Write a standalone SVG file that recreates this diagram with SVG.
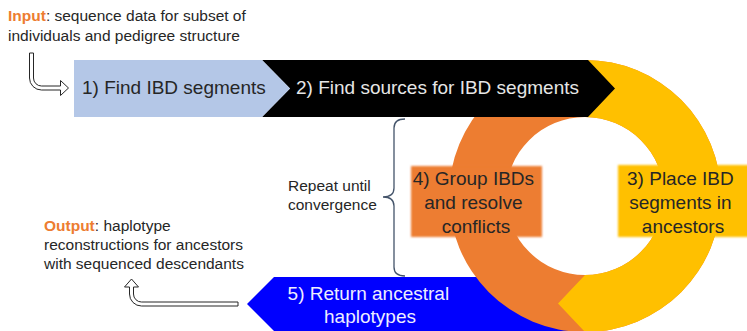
<svg xmlns="http://www.w3.org/2000/svg" width="747" height="331" viewBox="0 0 747 331">
  <defs>
    <filter id="soft" x="-10%" y="-10%" width="120%" height="120%">
      <feGaussianBlur stdDeviation="1.3"/>
    </filter>
    <style>
      text { font-family: "Liberation Sans", Arial, sans-serif; }
      .step { font-size: 19px; }
      .note { font-size: 15.5px; fill: #262626; }
      .key { font-weight: bold; fill: #ED7D31; }
      .dark { fill: #262626; }
      .light { fill: #E6E6E6; }
      .hollow { fill: #ffffff; stroke: #262626; stroke-width: 1; stroke-linejoin: miter; }
    </style>
  </defs>

  <rect width="747" height="331" fill="#ffffff"/>

  <!-- step 5: return chevron (sits beneath the cycle ring) -->
  <g id="step5">
    <polygon points="247,304 274,277 590,277 590,331 274,331" fill="#0000FF"/>
  </g>

  <!-- iteration ring: orange half with yellow arrow half -->
  <g id="cycle">
    <path fill="#ED7D31" fill-rule="evenodd"
          d="M449,196 A136,136 0 1 0 721,196 A136,136 0 1 0 449,196 Z M506,196 A79,79 0 1 0 664,196 A79,79 0 1 0 506,196 Z"/>
    <path fill="#FFC000"
          d="M585,60 A136,136 0 0 1 585,332 L558,303.5 L585,275 A79,79 0 0 0 585,117 Z"/>
  </g>

  <!-- step 2 chevron -->
  <g id="step2">
    <polygon points="262,60 588,60 615,88.5 588,117 262,117 290,88.5" fill="#000000"/>
    <text class="step light" x="296" y="94">2) Find sources for IBD segments</text>
  </g>

  <!-- step 1 chevron -->
  <g id="step1">
    <polygon points="74,60 262,60 290,88.5 262,117 74,117" fill="#B4C7E7"/>
    <text class="step dark" x="82" y="94">1) Find IBD segments</text>
  </g>

  <!-- step 4 label box -->
  <g id="step4">
    <rect x="411" y="166" width="131" height="71" fill="#ED7D31" filter="url(#soft)"/>
    <text class="step dark" text-anchor="middle">
      <tspan x="476" y="185">4) Group IBDs</tspan>
      <tspan x="476" y="209">and resolve</tspan>
      <tspan x="476" y="233">conflicts</tspan>
    </text>
  </g>

  <!-- step 3 label box -->
  <g id="step3">
    <rect x="618" y="165" width="135" height="72" fill="#FFC000" filter="url(#soft)"/>
    <text class="step dark" text-anchor="middle">
      <tspan x="683" y="185">3) Place IBD</tspan>
      <tspan x="683" y="209">segments in</tspan>
      <tspan x="683" y="233">ancestors</tspan>
    </text>
  </g>

  <!-- step 5 label -->
  <g id="step5-label">
    <text class="step" fill="#EEEEFF" text-anchor="middle">
      <tspan x="371" y="300">5) Return ancestral</tspan>
      <tspan x="370" y="323">haplotypes</tspan>
    </text>
  </g>

  <!-- input note -->
  <g id="input">
    <text class="note" x="8" y="21"><tspan class="key">Input</tspan>: sequence data for subset of</text>
    <text class="note" x="8" y="41">individuals and pedigree structure</text>
  </g>

  <!-- output note -->
  <g id="output">
    <text class="note" x="44" y="231"><tspan class="key">Output</tspan>: haplotype</text>
    <text class="note" x="44" y="250">reconstructions for ancestors</text>
    <text class="note" x="44" y="269">with sequenced descendants</text>
  </g>

  <!-- loop annotation -->
  <g id="repeat">
    <text class="note" x="288" y="191">Repeat until</text>
    <text class="note" x="288" y="210">convergence</text>
  </g>

  <!-- connectors -->
  <g id="connectors">
    <path d="M405,119 C398,119 394,122 394,128 L394,188 C394,194 390,197 383,197 C390,197 394,200 394,206 L394,267 C394,273 398,276 405,276"
          fill="none" stroke="#44546A" stroke-width="1.3"/>
    <path class="hollow"
          d="M29.5,53 L29.5,78 A12,12 0 0 0 41.5,90 L60.5,90 L60.5,95.5 L68.5,88 L60.5,80.5 L60.5,86 L41.5,86 A8,8 0 0 1 33.5,78 L33.5,53 Z"/>
    <path class="hollow"
          d="M238,302 L141.5,302 A8,8 0 0 1 133.5,294 L133.5,287 L138.5,287 L131.5,279 L124.5,287 L129.5,287 L129.5,294 A12,12 0 0 0 141.5,306 L238,306 Z"/>
  </g>
</svg>
